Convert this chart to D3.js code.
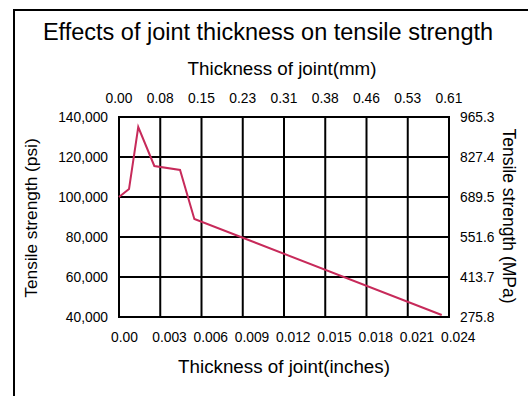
<!DOCTYPE html>
<html><head><meta charset="utf-8">
<script src="https://cdn.jsdelivr.net/npm/d3@7"></script>
<style>html,body{margin:0;padding:0;background:#fff;}svg{display:block;font-family:"Liberation Sans",Arial,sans-serif;}</style>
</head><body>
<svg id="c" width="528" height="396"></svg>
<script>
const thicknessIn = [0, 0.00073, 0.0014, 0.00257, 0.00444, 0.00548, 0.02347];
const strengthPsi = [100000, 104000, 135000, 115500, 113500, 89000, 41000];
const bottomTicks = [0, 0.003, 0.006, 0.009, 0.012, 0.015, 0.018, 0.021, 0.024];
const bottomLabels = ["0.00","0.003","0.006","0.009","0.012","0.015","0.018","0.021","0.024"];
const topLabels = ["0.00","0.08","0.15","0.23","0.31","0.38","0.46","0.53","0.61"];
const leftTicks = [40000, 60000, 80000, 100000, 120000, 140000];
const leftLabels = ["40,000","60,000","80,000","100,000","120,000","140,000"];
const rightLabels = ["275.8","413.7","551.6","689.5","827.4","965.3"];

const svg = d3.select("#c");
const L = 119, R = 449, T = 117, B = 317;
const x = d3.scaleLinear().domain([0, 0.024]).range([L, R]);
const y = d3.scaleLinear().domain([40000, 140000]).range([B, T]);

// outer border
svg.append("path").attr("d", "M14,400 L14,10 L540,10").attr("fill", "none").attr("stroke", "#000").attr("stroke-width", 2);

svg.append("text").attr("x", 268).attr("y", 40).attr("text-anchor", "middle").attr("font-size", 23.5).text("Effects of joint thickness on tensile strength");
svg.append("text").attr("x", 282).attr("y", 75).attr("text-anchor", "middle").attr("font-size", 18.8).text("Thickness of joint(mm)");
svg.append("text").attr("x", 284).attr("y", 373).attr("text-anchor", "middle").attr("font-size", 18.8).text("Thickness of joint(inches)");
svg.append("text").attr("transform", "translate(37,218) rotate(-90)").attr("text-anchor", "middle").attr("font-size", 17.3).text("Tensile strength (psi)");
svg.append("text").attr("transform", "translate(503,216) rotate(90)").attr("text-anchor", "middle").attr("font-size", 17.5).text("Tensile strength (MPa)");

// grid
const g = svg.append("g");
g.selectAll("line.v").data(bottomTicks).join("line")
  .attr("x1", d => x(d)).attr("x2", d => x(d)).attr("y1", T).attr("y2", B)
  .attr("stroke", "#000").attr("stroke-width", 2);
g.selectAll("line.h").data(leftTicks).join("line")
  .attr("y1", d => y(d)).attr("y2", d => y(d)).attr("x1", L - 1).attr("x2", R + 1)
  .attr("stroke", "#000").attr("stroke-width", 2);

const fs = 13.8;
svg.selectAll("text.b").data(bottomTicks).join("text")
  .attr("x", d => x(d) - 8).attr("y", 342).attr("font-size", fs).text((d, i) => bottomLabels[i]);
svg.selectAll("text.t").data(bottomTicks).join("text")
  .attr("x", d => x(d)).attr("y", 103).attr("text-anchor", "middle").attr("font-size", fs).text((d, i) => topLabels[i]);
svg.selectAll("text.l").data(leftTicks).join("text")
  .attr("x", 108).attr("y", d => y(d) + 5).attr("text-anchor", "end").attr("font-size", fs).text((d, i) => leftLabels[i]);
svg.selectAll("text.r").data(leftTicks).join("text")
  .attr("x", 460).attr("y", d => y(d) + 5).attr("font-size", fs).text((d, i) => rightLabels[i]);

const pts = thicknessIn.map((t, i) => [t, strengthPsi[i]]);
svg.append("path").datum(pts)
  .attr("d", d3.line().x(d => x(d[0])).y(d => y(d[1])))
  .attr("fill", "none").attr("stroke", "#c72a5a").attr("stroke-width", 2);
</script>
</body></html>
